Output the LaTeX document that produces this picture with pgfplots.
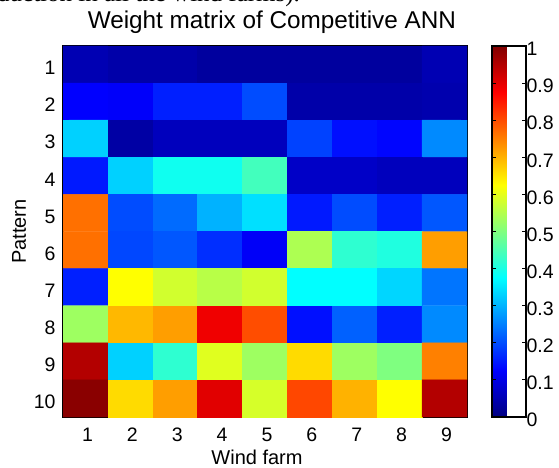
\documentclass[border=0pt]{standalone}
\usepackage{pgfplots}
\pgfplotsset{compat=1.18}
\usepackage{fontspec}
\setmainfont{Liberation Sans}
\newfontfamily\seriffont{Liberation Serif}

\pgfplotstableread{
x y v
1 1 0.05
2 1 0.04
3 1 0.04
4 1 0.03
5 1 0.03
6 1 0.03
7 1 0.03
8 1 0.03
9 1 0.05
1 2 0.125
2 2 0.12
3 2 0.155
4 2 0.155
5 2 0.20
6 2 0.04
7 2 0.04
8 2 0.04
9 2 0.045
1 3 0.33
2 3 0.035
3 3 0.06
4 3 0.06
5 3 0.06
6 3 0.19
7 3 0.14
8 3 0.13
9 3 0.26
1 4 0.15
2 4 0.33
3 4 0.39
4 4 0.39
5 4 0.44
6 4 0.07
7 4 0.07
8 4 0.06
9 4 0.06
1 5 0.765
2 5 0.20
3 5 0.23
4 5 0.30
5 5 0.345
6 5 0.15
7 5 0.20
8 5 0.155
9 5 0.21
1 6 0.765
2 6 0.195
3 6 0.21
4 6 0.17
5 6 0.118
6 6 0.545
7 6 0.42
8 6 0.405
9 6 0.72
1 7 0.155
2 7 0.625
3 7 0.58
4 7 0.555
5 7 0.58
6 7 0.375
7 7 0.375
8 7 0.335
9 7 0.24
1 8 0.53
2 8 0.695
3 8 0.72
4 8 0.89
5 8 0.80
6 8 0.14
7 8 0.22
8 8 0.155
9 8 0.26
1 9 0.95
2 9 0.33
3 9 0.42
4 9 0.595
5 9 0.53
6 9 0.66
7 9 0.53
8 9 0.50
9 9 0.75
1 10 0.99
2 10 0.66
3 10 0.72
4 10 0.905
5 10 0.585
6 10 0.805
7 10 0.70
8 10 0.625
9 10 0.95
}\weights

\begin{document}
\begin{tikzpicture}
\path[use as bounding box] (0pt,0pt) rectangle (559pt,468pt);
\begin{scope}
\clip (0pt,0pt) rectangle (559pt,468pt);
\node[anchor=base west, font=\seriffont\fontsize{25}{29}\selectfont, inner sep=0pt] at (-3pt,466pt) {duction in all the wind farms).};
\end{scope}
\begin{axis}[
  at={(63pt,51pt)}, anchor=south west,
  scale only axis, width=404pt, height=371pt,
  xmin=0.5, xmax=9.5, ymin=0.5, ymax=10.5,
  y dir=reverse,
  xtick={1,...,9}, ytick={1,...,10},
  xtick pos=both, ytick pos=both,
  xticklabel pos=lower, yticklabel pos=left,
  tick align=inside,
  major tick length=5pt,
  tick style={black, line width=0.8pt},
  axis line style={black, line width=1.2pt},
  /pgf/number format/assume math mode=true,
  tick label style={font=\fontsize{19.5}{23}\selectfont},
  xticklabel style={anchor=base, yshift=-24pt, xshift=2pt},
  yticklabel style={xshift=-4pt, yshift=-3.5pt},
  xlabel={Wind farm},
  ylabel={Pattern},
  label style={font=\fontsize{20}{23}\selectfont},
  xlabel style={at={(0.5,0)}, anchor=base, yshift=-47pt, xshift=-8pt},
  ylabel style={at={(0,0.5)}, anchor=base, yshift=37pt},
  title={Weight matrix of Competitive ANN},
  title style={font=\fontsize{24.3}{28}\selectfont, at={(0.517,1)}, anchor=base, yshift=11pt},
  colormap/jet,
  point meta min=0, point meta max=1,
  colorbar,
  colorbar style={
    at={(1.062,1)}, anchor=north west,
    width=34pt,
    ytick={0,0.1,0.2,0.3,0.4,0.5,0.6,0.7,0.8,0.9,1},
    yticklabels={0,0.1,0.2,0.3,0.4,0.5,0.6,0.7,0.8,0.9,1},
    ytick pos=both, yticklabel pos=right,
    ytick align=inside,
    major tick length=4pt,
    tick style={black, line width=0.8pt},
    axis line style={black, line width=1.2pt},
    yticklabel style={font=\fontsize{19.5}{23}\selectfont, xshift=-3pt, yshift=-3pt},
  },
]
\addplot[matrix plot*, mesh/cols=9, point meta=explicit] table[x=x, y=y, meta=v] {\weights};
\end{axis}
\end{tikzpicture}
\end{document}
